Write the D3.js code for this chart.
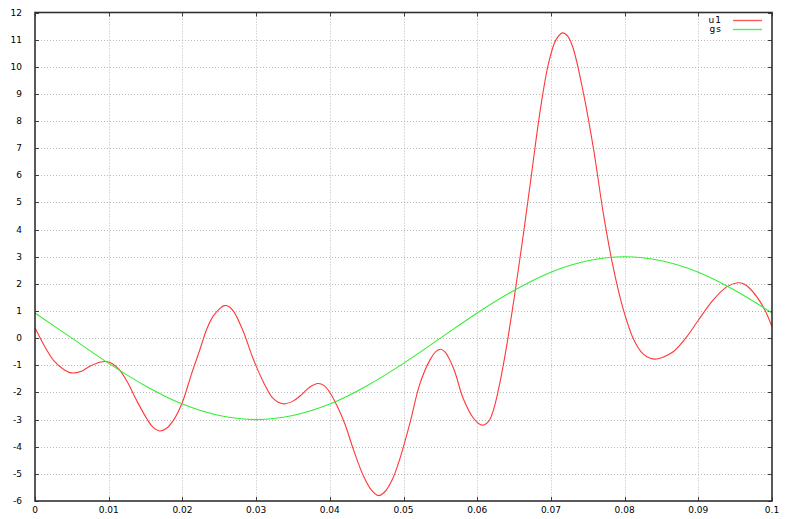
<!DOCTYPE html>
<html><head><meta charset="utf-8">
<script src="https://cdn.jsdelivr.net/npm/d3@7"></script>
<style>
body{margin:0;background:#fff;}
svg{display:block;}
text{font-family:"DejaVu Sans",sans-serif;font-size:9px;fill:#000;}
</style></head>
<body><svg id="c" width="791" height="519"></svg>
<script>
const xTicks = [0,0.01,0.02,0.03,0.04,0.05,0.06,0.07,0.08,0.09,0.1];
const xTickLabels = ["0","0.01","0.02","0.03","0.04","0.05","0.06","0.07","0.08","0.09","0.1"];
const yTicks = [-6,-5,-4,-3,-2,-1,0,1,2,3,4,5,6,7,8,9,10,11,12];

const u1X = [0.0000,0.0013,0.0026,0.0040,0.0049,0.0062,0.0075,0.0089,0.0097,0.0105,0.0115,0.0125,0.0138,0.0152,0.0160,0.0169,0.0178,0.0188,0.0200,0.0212,0.0224,0.0233,0.0242,0.0251,0.0257,0.0263,0.0270,0.0283,0.0296,0.0310,0.0323,0.0337,0.0350,0.0360,0.0373,0.0384,0.0392,0.0400,0.0410,0.0421,0.0432,0.0446,0.0456,0.0466,0.0475,0.0485,0.0495,0.0509,0.0522,0.0536,0.0545,0.0550,0.0556,0.0568,0.0581,0.0595,0.0604,0.0609,0.0616,0.0622,0.0628,0.0635,0.0642,0.0650,0.0663,0.0674,0.0685,0.0697,0.0707,0.0716,0.0723,0.0730,0.0744,0.0758,0.0771,0.0785,0.0798,0.0812,0.0825,0.0835,0.0843,0.0852,0.0866,0.0884,0.0900,0.0920,0.0938,0.0953,0.0962,0.0970,0.0988,0.1000];
const u1Y = [0.38,-0.30,-0.85,-1.17,-1.28,-1.23,-1.03,-0.88,-0.86,-0.94,-1.18,-1.60,-2.30,-2.98,-3.28,-3.42,-3.33,-3.02,-2.36,-1.35,-0.40,0.33,0.82,1.10,1.20,1.17,0.97,0.22,-0.76,-1.62,-2.22,-2.42,-2.32,-2.12,-1.80,-1.67,-1.74,-2.00,-2.50,-3.20,-4.10,-5.10,-5.58,-5.80,-5.65,-5.20,-4.45,-3.10,-1.70,-0.80,-0.47,-0.41,-0.50,-1.12,-2.22,-2.95,-3.18,-3.20,-3.05,-2.65,-2.00,-1.05,0.05,1.45,3.90,6.10,8.30,10.15,11.00,11.25,11.12,10.70,9.05,6.95,4.62,2.55,1.08,-0.03,-0.58,-0.74,-0.77,-0.70,-0.50,0.04,0.66,1.40,1.88,2.04,2.00,1.83,1.16,0.42];

const gsX = [0,0.005,0.01,0.015,0.02,0.025,0.03,0.035,0.04,0.045,0.05,0.055,0.06,0.065,0.07,0.075,0.08,0.085,0.09,0.095,0.1];
const gsY = [0.93,0.0,-0.93,-1.76,-2.43,-2.85,-3.0,-2.85,-2.43,-1.76,-0.93,0.0,0.93,1.76,2.43,2.85,3.0,2.85,2.43,1.76,0.93];

const svg = d3.select("#c");
const L=35, R=772, T=12.5, B=501;
const x = d3.scaleLinear().domain([0,0.1]).range([L,R]);
const y = d3.scaleLinear().domain([-6,12]).range([B,T]);

// grid
const g = svg.append("g");
g.selectAll(".gx").data(xTicks.slice(1,-1)).join("line")
 .attr("x1",d=>Math.round(x(d))+0.5).attr("x2",d=>Math.round(x(d))+0.5)
 .attr("y1",T).attr("y2",B).attr("stroke","#b8b8b8").attr("stroke-dasharray","1,2");
g.selectAll(".gy").data(yTicks.slice(1,-1)).join("line")
 .attr("y1",d=>Math.round(y(d))+0.5).attr("y2",d=>Math.round(y(d))+0.5)
 .attr("x1",L).attr("x2",R).attr("stroke","#b8b8b8").attr("stroke-dasharray","1,2");

// ticks (mirrored, inward)
const tk = svg.append("g").attr("stroke","#404040").attr("stroke-width",1);
xTicks.forEach(d=>{
  const px=Math.round(x(d))+0.5;
  tk.append("line").attr("x1",px).attr("x2",px).attr("y1",B).attr("y2",B-4);
  tk.append("line").attr("x1",px).attr("x2",px).attr("y1",T).attr("y2",T+4);
});
yTicks.forEach(d=>{
  const py=Math.round(y(d))+0.5;
  tk.append("line").attr("x1",L).attr("x2",L+4).attr("y1",py).attr("y2",py);
  tk.append("line").attr("x1",R).attr("x2",R-4).attr("y1",py).attr("y2",py);
});

// labels
svg.selectAll(".xl").data(xTicks).join("text")
 .attr("x",d=>x(d)).attr("y",513).attr("text-anchor","middle")
 .text((d,i)=>xTickLabels[i]);
svg.selectAll(".yl").data(yTicks).join("text")
 .attr("x",22).attr("y",d=>y(d)+3).attr("text-anchor","end")
 .text(d=>d);

// curves
const line = d3.line().curve(d3.curveCatmullRom.alpha(0.5));
svg.append("path").attr("d",line(u1X.map((v,i)=>[x(v),y(u1Y[i])])))
 .attr("fill","none").attr("stroke","#ff3838").attr("stroke-width",1.1);
svg.append("path").attr("d",line(gsX.map((v,i)=>[x(v),y(gsY[i])])))
 .attr("fill","none").attr("stroke","#33ee33").attr("stroke-width",1.1);

// border
svg.append("rect").attr("x",L).attr("y",T).attr("width",R-L).attr("height",B-T)
 .attr("fill","none").attr("stroke","#303030").attr("stroke-width",1.6);

// legend
const legend = [["u1","#ff5a5a"],["gs","#55f055"]];
legend.forEach((d,i)=>{
  svg.append("text").attr("x",722).attr("y",23+i*9).attr("text-anchor","end")
    .style("letter-spacing","1px").text(d[0]);
  svg.append("line").attr("x1",733).attr("x2",762).attr("y1",20.5+i*9).attr("y2",20.5+i*9)
    .attr("stroke",d[1]).attr("stroke-width",1.4);
});
</script></body></html>
